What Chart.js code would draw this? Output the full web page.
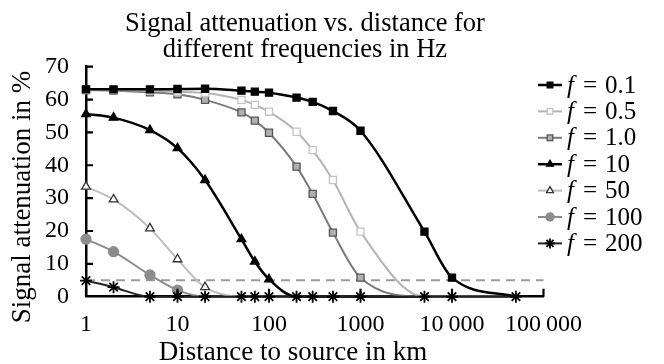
<!DOCTYPE html>
<html>
<head>
<meta charset="utf-8">
<script src="https://cdn.jsdelivr.net/npm/chart.js@4.4.0/dist/chart.umd.min.js"></script>
<style>
  html, body { margin: 0; padding: 0; background: #fff; }
  #wrap { width: 664px; height: 364px; }
</style>
</head>
<body>
<div id="wrap"><canvas id="attChart"></canvas></div>
<script>
// Distances (km) at which the attenuation was computed
const distances = [1, 2, 5, 10, 20, 50, 70, 100, 200, 300, 500, 1000, 5000, 10000, 50000];

// Attenuation in % for each frequency
const att01 = [63.1, 63.1, 63.1, 63.2, 63.3, 62.7, 62.4, 62.1, 60.6, 59.3, 56.5, 50.5, 19.8, 5.8, 0];
const att05 = [62.9, 62.9, 62.7, 62.4, 62.0, 59.9, 58.4, 56.3, 50.2, 44.6, 35.5, 19.8, 0, 0, 0];
const att10 = [62.9, 62.7, 62.2, 61.6, 59.9, 56.1, 53.6, 49.9, 39.6, 31.3, 19.5, 5.8, 0, 0, 0];
const att10Hz = [55.6, 54.5, 50.7, 45.2, 35.5, 17.5, 10.7, 5.3, 0, 0, 0, 0, 0, 0, 0];
const att50 = [33.5, 29.6, 20.8, 11.4, 2.9, 0, 0, 0, 0, 0, 0, 0, 0, 0, 0];
const att100 = [17.5, 13.7, 6.6, 2.0, 0, 0, 0, 0, 0, 0, 0, 0, 0, 0, 0];
const att200 = [4.9, 2.9, 0, 0, 0, 0, 0, 0, 0, 0, 0, 0, 0, 0, 0];

const freqLabels = ['0.1', '0.5', '1.0', '10', '50', '100', '200'];
const xTicks = [1, 10, 100, 1000, 10000, 100000];
const xTickLabels = ['1', '10', '100', '1000', '10\u2009000', '100\u2009000'];
const yTicks = [0, 10, 20, 30, 40, 50, 60, 70];
const threshold = 5;

const SERIF = '"Liberation Serif", "Times New Roman", serif';

// Look of each curve, same order as the series
const looks = [
  { line: '#000', width: 2.5, style: 'rect', fill: '#000', edge: '#000', r: 5 },
  { line: '#b4b4b4', width: 2, style: 'rect', fill: '#fff', edge: '#c4c4c4', r: 5 },
  { line: '#7a7a7a', width: 2, style: 'rect', fill: '#b0b0b0', edge: '#555', r: 5 },
  { line: '#000', width: 2.5, style: 'triangle', fill: '#000', edge: '#000', r: 5 },
  { line: '#bdbdbd', width: 2, style: 'triangle', fill: '#fff', edge: '#333', r: 5 },
  { line: '#8c8c8c', width: 2, style: 'circle', fill: '#8c8c8c', edge: '#8c8c8c', r: 5 },
  { line: '#222', width: 2, style: 'star', fill: '#000', edge: '#000', r: 6 }
];

function toPoints(values) {
  return distances.map((d, i) => ({ x: d, y: values[i] }));
}

const seriesValues = [att01, att05, att10, att10Hz, att50, att100, att200];

const datasets = seriesValues.map((vals, i) => {
  const lk = looks[i];
  const isStar = lk.style === 'star';
  return {
    label: 'f = ' + freqLabels[i],
    data: toPoints(vals),
    borderColor: lk.line,
    borderWidth: lk.width,
    pointStyle: lk.style,
    pointBackgroundColor: lk.fill,
    pointBorderColor: lk.edge,
    pointBorderWidth: isStar ? 1.8 : 1.3,
    // markers sitting on zero are hidden under the stars
    pointRadius: ctx => (!isStar && ctx.raw && ctx.raw.y === 0) ? 0 : lk.r,
    cubicInterpolationMode: 'monotone',
    clip: false,
    order: isStar ? -1 : i
  };
});

// dashed 5 % reference line
datasets.push({
  label: 'threshold',
  data: [{ x: xTicks[0], y: threshold }, { x: xTicks[xTicks.length - 1], y: threshold }],
  borderColor: '#9a9a9a',
  borderWidth: 2.2,
  borderDash: [9, 6],
  pointRadius: 0,
  clip: false,
  order: 20
});

// Inward ticks, titles and legend
const framePlugin = {
  id: 'frame',
  afterDraw(chart) {
    const ctx = chart.ctx;
    const area = chart.chartArea;
    const xs = chart.scales.x;
    const ys = chart.scales.y;

    ctx.save();
    ctx.strokeStyle = '#000';
    ctx.lineWidth = 2.2;
    ctx.beginPath();
    yTicks.slice(1).forEach(v => {
      const py = ys.getPixelForValue(v);
      ctx.moveTo(area.left, py);
      ctx.lineTo(area.left + 7, py);
    });
    xTicks.forEach(v => {
      const px = xs.getPixelForValue(v);
      ctx.moveTo(px, area.bottom);
      ctx.lineTo(px, area.bottom - 8);
    });
    ctx.stroke();

    // titles
    ctx.fillStyle = '#000';
    ctx.textAlign = 'center';
    ctx.textBaseline = 'alphabetic';
    ctx.font = '26.5px ' + SERIF;
    ctx.fillText('Signal attenuation vs. distance for', 305, 30.5);
    ctx.fillText('different frequencies in Hz', 305, 57);
    ctx.font = '27px ' + SERIF;
    ctx.fillText('Distance to source in km', 293, 360);
    ctx.save();
    ctx.translate(30, 197);
    ctx.rotate(-Math.PI / 2);
    ctx.fillText('Signal attenuation in %', 0, 0);
    ctx.restore();

    // legend
    ctx.textAlign = 'left';
    ctx.textBaseline = 'middle';
    for (let i = 0; i < freqLabels.length; i++) {
      const ds = chart.data.datasets[i];
      const lk = looks[i];
      const y = 85 + i * 26.4;
      ctx.strokeStyle = lk.line;
      ctx.lineWidth = lk.width;
      ctx.beginPath();
      ctx.moveTo(538, y);
      ctx.lineTo(562, y);
      ctx.stroke();
      ctx.fillStyle = lk.fill;
      ctx.strokeStyle = lk.edge;
      ctx.lineWidth = ds.pointBorderWidth;
      Chart.helpers.drawPoint(ctx, {
        pointStyle: lk.style,
        radius: lk.r - 1,
        rotation: 0,
        borderWidth: ds.pointBorderWidth
      }, 550, y);
      ctx.fillStyle = '#000';
      ctx.font = 'italic 25px ' + SERIF;
      ctx.fillText('f', 567, y + 1);
      ctx.font = '25px ' + SERIF;
      ctx.fillText('=', 583, y + 1);
      ctx.fillText(freqLabels[i], 605, y + 1);
    }
    ctx.restore();
  }
};

const ctx = document.getElementById('attChart').getContext('2d');
const chart = new Chart(ctx, {
  type: 'line',
  data: { datasets: datasets },
  plugins: [framePlugin],
  options: {
    responsive: true,
    maintainAspectRatio: false,
    animation: false,
    events: [],
    layout: { padding: { top: 66.7, right: 120.5, left: 0, bottom: 0 } },
    plugins: {
      legend: { display: false },
      title: { display: false },
      tooltip: { enabled: false }
    },
    scales: {
      x: {
        type: 'logarithmic',
        min: 1,
        max: 100000,
        grid: { display: false },
        border: { display: true, color: '#000', width: 2.5 },
        afterBuildTicks: scale => {
          scale.ticks = xTicks.map(v => ({ value: v }));
        },
        afterFit: scale => {
          scale.height = 67.3;
          scale.paddingLeft = 0;
          scale.paddingRight = 0;
        },
        ticks: {
          autoSkip: false,
          maxRotation: 0,
          color: '#000',
          padding: 6,
          font: { family: SERIF, size: 24 },
          callback: value => xTickLabels[xTicks.indexOf(value)]
        }
      },
      y: {
        min: 0,
        max: 70,
        grid: { display: false },
        border: { display: true, color: '#000', width: 2.5 },
        afterFit: scale => {
          scale.width = 86;
          scale.paddingTop = 0;
          scale.paddingBottom = 0;
        },
        ticks: {
          stepSize: 10,
          color: '#000',
          padding: 9,
          font: { family: SERIF, size: 24 }
        }
      }
    }
  }
});
</script>
</body>
</html>
